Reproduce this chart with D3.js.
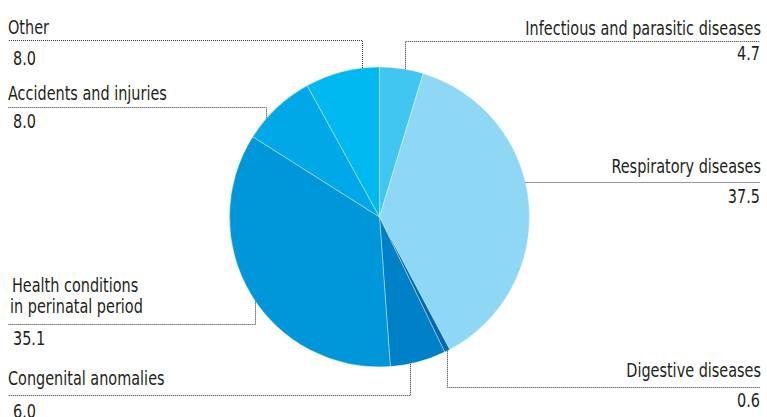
<!DOCTYPE html>
<html>
<head>
<meta charset="utf-8">
<script src="https://cdn.jsdelivr.net/npm/d3@7"></script>
<style>
    body { margin: 0; background: #fff; }
    text { font-family: "DejaVu Sans Condensed", "DejaVu Sans", sans-serif; font-size: 19px; fill: #231f20; }
</style>
</head>
<body>
<svg id="chart" width="767" height="417"></svg>
<script>
// causes of death, clockwise from 12 o'clock
var categories = ["Infectious and parasitic diseases", "Respiratory diseases", "Digestive diseases",
    "Congenital anomalies", "Health conditions|in perinatal period", "Accidents and injuries", "Other"];
var values = [4.7, 37.5, 0.6, 6.0, 35.1, 8.0, 8.0];
var valueLabels = ["4.7", "37.5", "0.6", "6.0", "35.1", "8.0", "8.0"];
var colors = ["#41c6f2", "#8fd8f5", "#0069b4", "#0080c6", "#0096da", "#00a8e8", "#00b9f0"];

var svg = d3.select("#chart"),
    cx = 379.5,
    cy = 217,
    r = 150,
    squeeze = 0.845;

var pie = d3.pie().sort(null).value(function(d) { return d; });
var arc = d3.arc().innerRadius(0).outerRadius(r);

var g = svg.append("g").attr("transform", "translate(" + cx + "," + cy + ")");

g.selectAll(".slice")
    .data(pie(values))
    .enter().append("path")
    .attr("class", "slice")
    .attr("d", arc)
    .attr("fill", function(d, i) { return colors[i]; })
    .attr("stroke", "rgba(255,255,255,0.6)")
    .attr("stroke-width", 0.6);

// label layout: side, leader line y, anchor x on pie edge (null = horizontal hit)
var layout = [
    { side: "right", lineY: 41.5, ax: 405.5, top: true, lines: [35], val: 60 },
    { side: "right", lineY: 182.5, ax: null, lines: [173], val: 203 },
    { side: "right", lineY: 387.5, ax: 447.5, top: false, lines: [377], val: 407 },
    { side: "left", lineY: 395.5, ax: 410.5, top: false, lines: [385], val: 418 },
    { side: "left", lineY: 324.5, ax: 255.5, top: false, lines: [292, 313], val: 345 },
    { side: "left", lineY: 107.5, ax: 266.5, top: true, lines: [100], val: 128 },
    { side: "left", lineY: 40.5, ax: 362.5, top: true, lines: [34], val: 65 }
];

var leftX = 8, rightX = 760;

function edgeY(x, top) {
    var dx = x - cx;
    var dy = Math.sqrt(r * r - dx * dx);
    return top ? cy - dy : cy + dy;
}

function addText(x, y, anchor, t) {
    svg.append("text")
        .attr("transform", "translate(" + x + "," + y + ") scale(" + squeeze + ",1)")
        .attr("text-anchor", anchor)
        .text(t);
}

var lead = svg.append("g")
    .attr("fill", "none")
    .attr("stroke", "#333")
    .attr("stroke-width", 1)
    .attr("stroke-dasharray", "1,1");

layout.forEach(function(l, i) {
    var pts;
    var outer = l.side === "left" ? leftX : rightX;
    if (l.ax === null) {
        var dy = l.lineY - cy;
        var ex = cx + Math.sqrt(r * r - dy * dy);
        pts = [[ex, l.lineY], [outer, l.lineY]];
    } else {
        pts = [[l.ax, edgeY(l.ax, l.top)], [l.ax, l.lineY], [outer, l.lineY]];
    }
    lead.append("path").attr("d", d3.line()(pts));

    var anchor = l.side === "left" ? "start" : "end";
    var parts = categories[i].split("|");
    parts.forEach(function(t, j) {
        var x = l.side === "left" ? (parts.length > 1 ? 12 - 2 * j : leftX) : rightX + 1;
        addText(x, l.lines[j], anchor, t);
    });
    addText(l.side === "left" ? 13 : rightX, l.val, anchor, valueLabels[i]);
});
</script>
</body>
</html>
